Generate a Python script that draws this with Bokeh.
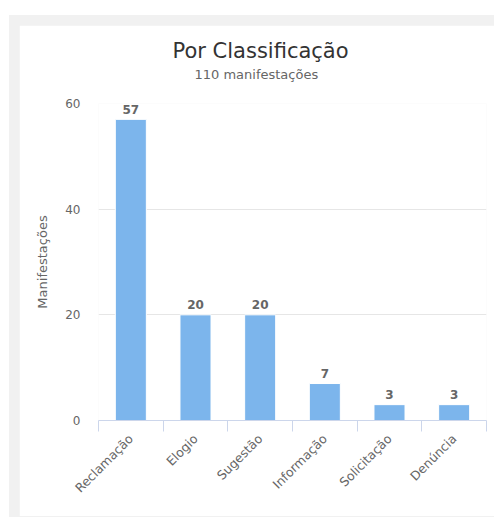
import math
from bokeh.plotting import figure
from bokeh.models import Range1d, FactorRange, LinearAxis, FixedTicker, Title
from bokeh.layouts import column
from bokeh.core.properties import value
from bokeh.embed import file_html
from bokeh.resources import INLINE

categories = ["Reclamação", "Elogio", "Sugestão", "Informação", "Solicitação", "Denúncia"]
values = [57, 20, 20, 7, 3, 3]
y_ticks = [0, 20, 40, 60]
title_text = "Por Classificação"
subtitle_text = "110 manifestações"
y_label = "Manifestações"

FONT = "DejaVu Sans"

p = figure(
    x_range=FactorRange(*categories),
    y_range=Range1d(0, 60),
    width=475, height=491,
    output_backend="svg", toolbar_location=None,
    min_border_left=79, min_border_right=8,
    min_border_top=78, min_border_bottom=96,
    margin=(10, 0, 1, 10),
)
p.outline_line_color = None
p.background_fill_color = "#ffffff"
p.border_fill_color = "#ffffff"

p.vbar(x=categories, top=values, width=0.48, fill_color="#7cb5ec",
       line_color="#ffffff", line_width=1)

p.text(x=categories, y=values, text=[str(v) for v in values],
       text_align="center", text_baseline="alphabetic", y_offset=-10,
       text_font=value(FONT), text_font_style="bold",
       text_font_size="12px", text_color="#666666")

# grid
p.xgrid.visible = False
p.ygrid.ticker = FixedTicker(ticks=y_ticks)
p.ygrid.grid_line_color = "#e6e6e6"

# y axis
p.yaxis.ticker = FixedTicker(ticks=y_ticks)
p.yaxis.axis_line_color = None
p.yaxis.major_tick_line_color = None
p.yaxis.minor_tick_line_color = None
p.yaxis.major_tick_out = 0
p.yaxis.major_label_standoff = 18
p.yaxis.major_label_text_font = FONT
p.yaxis.major_label_text_font_size = "12px"
p.yaxis.major_label_text_color = "#666666"
p.yaxis.axis_label = y_label
p.yaxis.axis_label_text_font = FONT
p.yaxis.axis_label_text_font_size = "13px"
p.yaxis.axis_label_text_font_style = "normal"
p.yaxis.axis_label_text_color = "#666666"
p.yaxis.axis_label_standoff = 12

# category axis (labels only)
cat_axis = p.xaxis[0]
cat_axis.axis_line_color = None
cat_axis.major_tick_line_color = None
cat_axis.minor_tick_line_color = None
cat_axis.major_tick_out = 0
cat_axis.major_label_orientation = math.pi / 4
cat_axis.major_label_standoff = 5
cat_axis.major_label_text_font = FONT
cat_axis.major_label_text_font_size = "12.5px"
cat_axis.major_label_text_color = "#666666"

# boundary ticks axis (numeric synthetic coordinates on the factor range)
edge_ticks = list(range(len(categories) + 1))
tick_axis = LinearAxis(
    ticker=FixedTicker(ticks=edge_ticks),
    axis_line_color="#ccd6eb",
    major_tick_line_color="#ccd6eb",
    minor_tick_line_color=None,
    major_tick_out=11, major_tick_in=0,
    major_label_overrides={t: "" for t in edge_ticks},
    major_label_text_font_size="1px",
    major_label_standoff=0,
)
p.add_layout(tick_axis, "below")
p.below = [tick_axis, cat_axis]

sub = Title(text=subtitle_text, align="left", offset=96,
            text_font=FONT, text_font_size="13px", text_font_style="normal",
            text_color="#666666", standoff=44)
ttl = Title(text=title_text, align="left", offset=74,
            text_font=FONT, text_font_size="21px", text_font_style="normal",
            text_color="#333333", standoff=-40)
p.add_layout(sub, "above")
p.add_layout(ttl, "above")

layout = column(p, styles={"background-color": "#f1f1f1"}, margin=(15, 0, 0, 9))

open("out.html", "w").write(file_html(layout, INLINE))
